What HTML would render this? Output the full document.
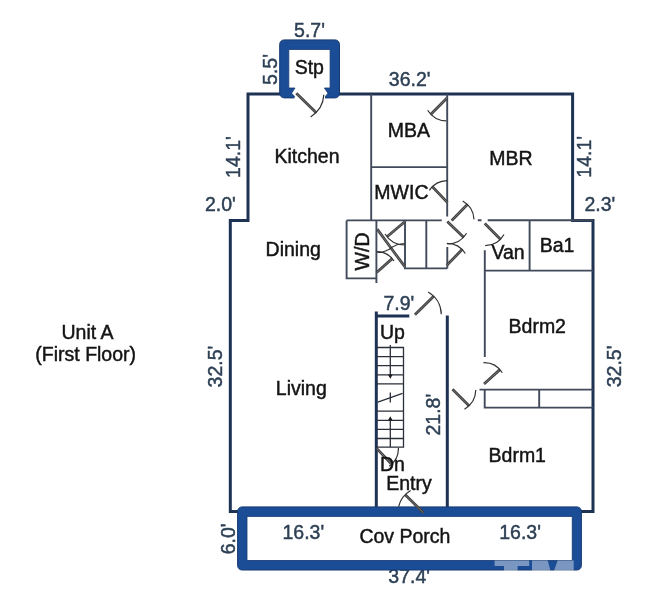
<!DOCTYPE html>
<html><head><meta charset="utf-8">
<style>
html,body{margin:0;padding:0;background:#fff;width:658px;height:608px;overflow:hidden}
svg{display:block;will-change:transform}
text{font-family:"Liberation Sans",sans-serif;font-size:19.5px;stroke:currentColor;stroke-width:0.45}
</style></head>
<body>
<svg width="658" height="608" viewBox="0 0 658 608">
<rect width="658" height="608" fill="#fff"/>
<path fill="none" stroke="#1e3354" stroke-width="3" d="M238 511.5 H230.3 V220.5 H248 V94 H572.6 V220.4 H593 V511.6 H580"/>
<path fill="none" stroke="#404a5a" stroke-width="1.9" d="M371.2 94 V220.4 M447.2 94 V216.4 M371.2 167.1 H447.2
 M346.6 220.4 H441.8 M487.7 220.3 H593 M477.8 220.3 H481.5
 M346.6 220.4 V278.4 H376.4 M376.4 220.4 V283 M405 220.4 V268.4 H447.3 M426.3 220.4 V268.4 M447.3 247.1 V268.4
 M484.8 250.3 V357 M529.6 220.3 V270.6 M484.8 270.6 H593
 M479.5 389.6 H593 M484.7 389.6 V407.6 H593 M539.2 389.6 V407.6"/>
<path fill="none" stroke="#1e3354" stroke-width="3" d="M376.3 315.9 H409.3 M376.3 311.5 V508 M447.3 315.4 V508"/>
<path fill="none" stroke="#2a2f3a" stroke-width="1.3" d="M376.3 347.5 H403.5 V447.2 H376.3
 M376.3 356.6 H403.5 M376.3 365.7 H403.5 M376.3 374.8 H403.5 M376.3 383.9 H403.5
 M376.3 411.2 H403.5 M376.3 420.3 H403.5 M376.3 429.4 H403.5 M376.3 438.5 H403.5
 M377.8 402.1 L402.5 393.3 M390.3 345 V375 M390.3 392.5 V402.5 M390.3 419 V447.2"/>
<path fill="#1a1a1a" d="M387.9 374.6 H392.7 L390.3 378.8 Z M387.9 420.5 H392.7 L390.3 416.3 Z"/>
<rect x="279.7" y="39.9" width="59.8" height="58" rx="4.5" fill="#1b4c96" stroke="#173a72" stroke-width="1"/>
<path fill="#fff" stroke="#173a72" stroke-width="0.8" d="M288.8 49.5 H330.1 V88 H324.4 L328 93.2 L323.9 98.4 H296.3 L291.6 93.2 L295 88 H288.8 Z"/>
<rect x="294.5" y="96.8" width="30.5" height="3" fill="#fff"/>
<text x="409.2" y="583" text-anchor="middle" fill="#2e4055" color="#2e4055">37.4'</text>
<rect x="237.6" y="506.9" width="343.8" height="63.1" rx="4.5" fill="#1b4c96" stroke="#173a72" stroke-width="1"/>
<rect x="247" y="516.4" width="325.2" height="44" fill="#fff" stroke="#173a72" stroke-width="0.8"/>
<path fill="#fff" fill-opacity="0.42" d="M494.6 560.6 H529.2 V566 H517.6 V570.8 H504 V566 H494.6 Z M532 560.6 H547.7 L550.5 570.8 H532 Z M557.6 560.6 H573.7 V570.8 H554 Z"/>
<path fill="none" stroke="#404040" stroke-width="2.8" stroke-linecap="butt" d="M296.3 93.3 L316.0 112.6 M447.0 97.9 L430.9 114.3 M447.5 202.6 L432.4 186.8 M451.7 220.4 L467.4 204.6 M447.3 221.4 L463.6 237.2 M446.8 265.3 L462.1 249.6 M484.8 223.6 L500.4 239.2 M414.9 314.8 L433.7 296.2 M484.0 384.0 L499.9 369.6 M452.5 389.3 L469.0 405.8 M376.9 448.6 L391.0 463.5 M423.4 512.7 L405.2 494.8 M404.8 221.8 L387.0 236.7 M376.6 272.5 L392.2 258.6 M377.2 229.2 L391.0 248.0 M404.8 266.7 L391.0 248.0"/>
<path fill="none" stroke="#747474" stroke-width="1" d="M296.3 93.3 L316.0 112.6 M447.0 97.9 L430.9 114.3 M447.5 202.6 L432.4 186.8 M451.7 220.4 L467.4 204.6 M447.3 221.4 L463.6 237.2 M446.8 265.3 L462.1 249.6 M484.8 223.6 L500.4 239.2 M414.9 314.8 L433.7 296.2 M484.0 384.0 L499.9 369.6 M452.5 389.3 L469.0 405.8 M376.9 448.6 L391.0 463.5 M423.4 512.7 L405.2 494.8 M404.8 221.8 L387.0 236.7 M376.6 272.5 L392.2 258.6 M377.2 229.2 L391.0 248.0 M404.8 266.7 L391.0 248.0"/>
<path fill="none" stroke="#303030" stroke-width="1.2" d="M310.6 116.9 A27.6 27.6 0 0 0 323.8 94.8 M427.6 110.2 A23.0 23.0 0 0 0 446.3 120.9 M429.4 190.3 A21.9 21.9 0 0 1 447.2 180.7 M462.7 201.1 A22.3 22.3 0 0 1 474.0 219.4 M466.6 233.3 A22.7 22.7 0 0 1 447.3 244.1 M465.3 253.5 A21.9 21.9 0 0 0 446.8 243.4 M504.0 234.5 A22.1 22.1 0 0 1 485.2 245.7 M428.2 292.0 A26.4 26.4 0 0 1 441.3 314.2 M483.4 362.6 A21.5 21.5 0 0 1 502.3 372.8 M464.5 409.3 A23.3 23.3 0 0 0 475.8 390.0 M398.4 447.9 A21.5 21.5 0 0 1 389.2 466.3 M410.7 490.6 A25.5 25.5 0 0 0 398.6 506.7 M385.0 234.0 A23.2 23.2 0 0 0 404.8 245.0 M394.0 261.0 A20.9 20.9 0 0 0 376.6 251.6 M392.7 246.6 A23.3 23.3 0 0 1 377.2 252.5 M389.3 249.4 A23.2 23.2 0 0 1 404.8 243.5"/>
<g text-anchor="middle" fill="#141414" color="#141414">
<text x="309.3" y="74">Stp</text>
<text x="307" y="162.8">Kitchen</text>
<text x="408.8" y="137.3">MBA</text>
<text x="511" y="164.6">MBR</text>
<text x="401.4" y="198.6">MWIC</text>
<text x="293.25" y="255.7">Dining</text>
<text x="301.35" y="395.2">Living</text>
<text x="87.5" y="338.8">Unit A</text>
<text x="85.7" y="361.1">(First Floor)</text>
<text x="508.1" y="259.1">Van</text>
<text x="557.1" y="251.9">Ba1</text>
<text x="537.25" y="333.2">Bdrm2</text>
<text x="517.25" y="461.9">Bdrm1</text>
<text x="392.5" y="339.3">Up</text>
<text x="392.5" y="470.9">Dn</text>
<text x="408.9" y="489.8">Entry</text>
<text x="404.95" y="543.1">Cov Porch</text>
<text transform="translate(369.3,251.45) rotate(-90)">W/D</text>
</g>
<g text-anchor="middle" fill="#2e4055" color="#2e4055">
<text x="309.5" y="36.7">5.7'</text>
<text x="409.65" y="85.5">36.2'</text>
<text x="220.4" y="211.3">2.0'</text>
<text x="599.9" y="211">2.3'</text>
<text x="398.9" y="310.4">7.9'</text>
<text x="303.3" y="538.8">16.3'</text>
<text x="520.1" y="538.8">16.3'</text>
<text transform="translate(276.8,69.5) rotate(-90)">5.5'</text>
<text transform="translate(239.7,157.05) rotate(-90)">14.1'</text>
<text transform="translate(591.2,156.8) rotate(-90)">14.1'</text>
<text transform="translate(222.1,366.6) rotate(-90)">32.5'</text>
<text transform="translate(621.2,366.4) rotate(-90)">32.5'</text>
<text transform="translate(439.6,414.7) rotate(-90)">21.8'</text>
<text transform="translate(234.6,538.9) rotate(-90)">6.0'</text>
</g>
</svg>
</body></html>
